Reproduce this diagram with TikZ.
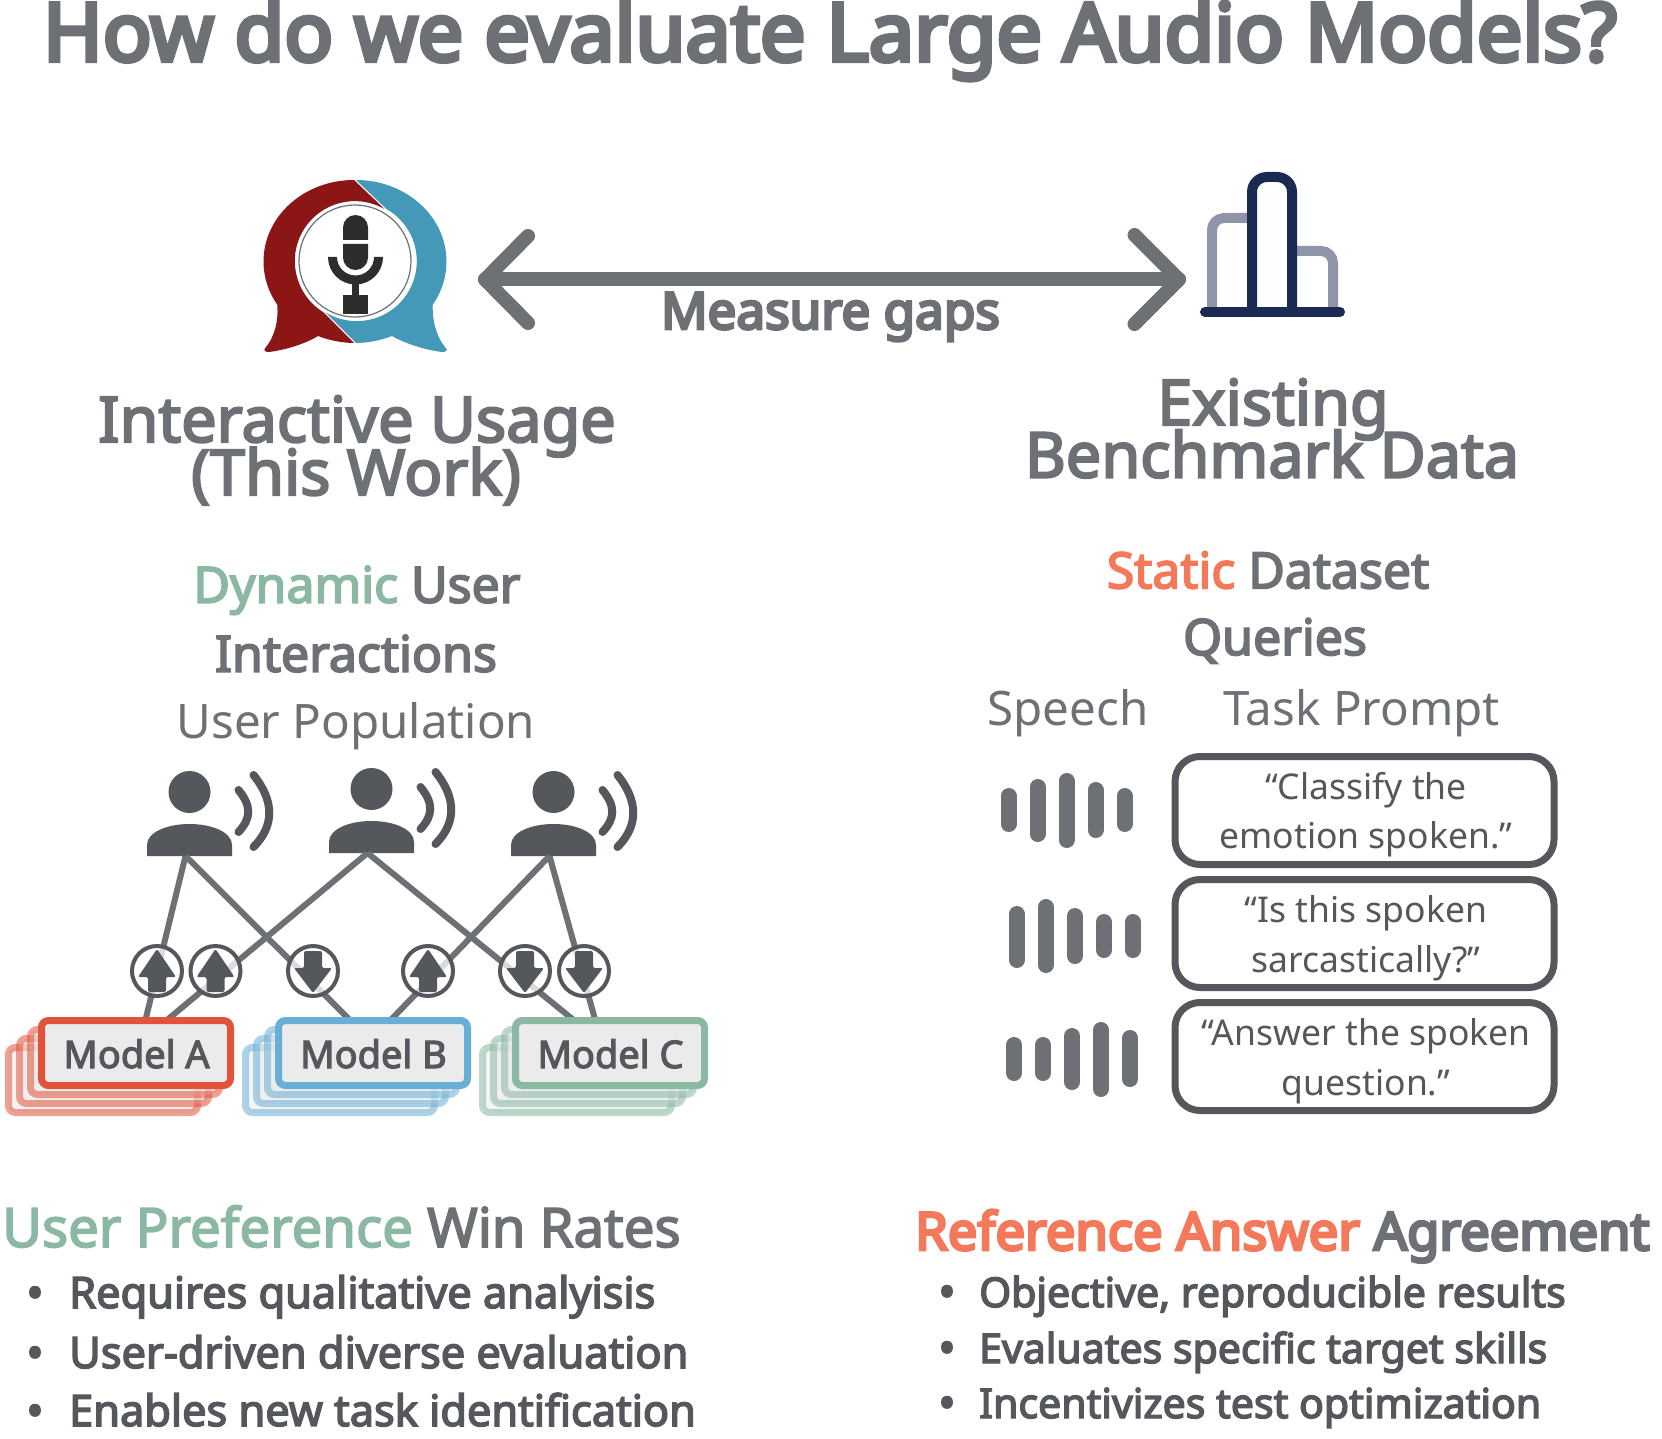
\documentclass[tikz,border=0pt]{standalone}
\usepackage{fontspec}
\setmainfont{Noto Sans}
\newfontfamily\fbheavy{Noto Sans}[FakeBold=5.5]
\newfontfamily\fbsemi{Noto Sans}[FakeBold=3.5]
\newfontfamily\fblight{Noto Sans}[FakeBold=3]
\usetikzlibrary{calc}
\definecolor{ink}{HTML}{6D7074}
\definecolor{dark}{HTML}{54575B}
\definecolor{mred}{HTML}{E2533C}
\definecolor{mblue}{HTML}{69AFD5}
\definecolor{mgreen}{HTML}{8AB8A3}
\definecolor{orng}{HTML}{F4785A}
\definecolor{lred}{HTML}{8C1515}
\definecolor{lblue}{HTML}{4498B8}
\definecolor{mic}{HTML}{2E2D2B}
\definecolor{navy}{HTML}{1B2A52}
\definecolor{slate}{HTML}{8F94A8}
\definecolor{boxgray}{HTML}{EBEBEB}
\newcommand\fsz[1]{\fontsize{#1}{#1}\selectfont}
\newcommand\modelstack[4]{% x-left(outer) name colour label
  \begin{scope}[shift={(#1,0)}]
  \foreach \k in {3,2,1}{
    \draw[line width=7pt,draw=#3,fill=boxgray,rounded corners=7pt,draw opacity=.55,fill opacity=.55]
      ($(3.5,1020.5)+(-11*\k,9*\k)$) rectangle ++(189,65);}
  \node[draw=#3,fill=boxgray,line width=7pt,rounded corners=7pt,minimum width=189pt,minimum height=65pt,inner sep=0pt,anchor=center] (#2) at (98,1053) {};
  \node[text=dark,font=\fblight\fsz{38},anchor=base,inner sep=0pt] at (98.5,1068) {#4};
  \end{scope}}
\tikzset{
 title/.style={text=ink,font=\fbheavy\fsz{80.8},inner sep=0pt,anchor=base},
 head/.style={text=ink,font=\fbsemi\fsz{63},inner sep=0pt,anchor=base},
 sub/.style={text=ink,font=\fbsemi\fsz{50},inner sep=0pt,anchor=base},
 subr/.style={text=ink,font=\fsz{47.5},inner sep=0pt,anchor=base},
 bul/.style={text=dark,font=\fbsemi\fsz{43.3},inner sep=0pt,anchor=base west},
 bulr/.style={text=dark,font=\fbsemi\fsz{41},inner sep=0pt,anchor=base west},
 dot/.style={text=dark,font=\fbheavy\fsz{43},inner sep=0pt,anchor=base},
 link/.style={draw=ink,line width=6pt},
 vote/.style={circle,draw=dark,line width=4pt,fill=white,fill opacity=.75,minimum size=50pt,inner sep=0pt},
 prompt/.style={draw=dark,line width=7pt,rounded corners=25pt,minimum width=379pt,minimum height=108pt,inner sep=0pt,fill=white},
 ptext/.style={text=dark,font=\fsz{35.5},inner sep=0pt,anchor=base},
 wavebar/.style={draw=ink,line width=16pt,line cap=round},
 sound/.style={draw=dark,line width=8pt,line cap=round},
 dbl/.style={draw=ink,line width=14pt,line cap=round,line join=round},
}
\newcommand\person[3]{% x y name
  \begin{scope}[shift={(#1,#2)}]
  \fill[dark] (0,-64) circle[radius=21];
  \fill[dark] (-42.5,0) -- (-42.5,-11) .. controls (-42.5,-24) and (-22,-32) .. (0,-32) .. controls (22,-32) and (42.5,-24) .. (42.5,-11) -- (42.5,0) -- cycle;
  \draw[sound] (49,-66) .. controls (62,-50) and (62,-38) .. (49,-24);
  \draw[sound] (64,-81) .. controls (85,-55) and (85,-30) .. (64,-9);
  \coordinate (#3) at (-4,0);
  \end{scope}}
\newcommand\voteup[1]{\fill[dark,rounded corners=2pt,shift={(#1)}] (0,-22) -- (19,6) -- (9,6) -- (9,21) -- (-9,21) -- (-9,6) -- (-19,6) -- cycle;}
\newcommand\votedown[1]{\fill[dark,rounded corners=2pt,shift={(#1)}] (0,22) -- (19,-3) -- (9,-3) -- (9,-20) -- (-9,-20) -- (-9,-3) -- (-19,-3) -- cycle;}
\begin{document}
\begin{tikzpicture}[x=1pt,y=-1pt]
\useasboundingbox (0,0) rectangle (1662,1439);
\fill[white] (0,0) rectangle (1662,1439);
% title
\node[title] (ttl) at (830,61) {How do we evaluate Large Audio Models?};
% logo
\fill[lred] (354,180) arc[start angle=270,end angle=148,x radius=90.5,y radius=81.5]
  .. controls (279,325) and (272,340) .. (266,347) .. controls (263,350) and (264,352) .. (269,352)
  .. controls (285,350) and (305,344) .. (318,336) .. controls (328,340) and (342,343) .. (354,343)
  -- (323,312) arc[start angle=122,end angle=299.6,radius=60] -- cycle;
\fill[lblue] (356,180) arc[start angle=270,end angle=392,x radius=90.5,y radius=81.5]
  .. controls (432,325) and (439,340) .. (445,347) .. controls (448,350) and (447,352) .. (442,352)
  .. controls (426,350) and (406,344) .. (392,336) .. controls (382,340) and (368,343) .. (356,343)
  -- (325,312) arc[start angle=122,end angle=-60.4,radius=60] -- cycle;
\fill[white] (355,261) circle[radius=58.5];
\draw[ink,line width=1.2pt] (355,261) circle[radius=56];
\fill[mic] (343,240) -- (343,227.5) arc[start angle=180,end angle=360,radius=12.5] -- (368,240) -- cycle;
\fill[mic] (343,244) -- (343,257.5) arc[start angle=180,end angle=0,radius=12.5] -- (368,244) -- cycle;
\fill[mic] (328,257) arc[start angle=180,end angle=0,radius=27.5] -- (374,257) arc[start angle=0,end angle=180,radius=18.5] -- cycle;
\fill[mic] (352,283) rectangle (359,296);
\fill[mic] (343,295) rectangle (368,314);
% double arrow
\coordinate (al) at (485,279.5);
\coordinate (ar) at (1179,279.5);
\draw[dbl] (528,236) -- (al) -- (528,323);
\draw[dbl] (al) -- (ar);
\draw[dbl] (1134.5,235) -- (ar) -- (1134.5,324);
\node[text=ink,font=\fbheavy\fsz{51.2},inner sep=0pt,anchor=base] (gap) at (830.5,329) {Measure gaps};
% bar chart
\draw[slate,line width=10pt,line join=round] (1212,312) -- (1212,230) arc[start angle=180,end angle=270,radius=12] -- (1252,218);
\draw[slate,line width=10pt] (1292,251) -- (1321,251) arc[start angle=270,end angle=360,radius=12] -- (1333,312);
\draw[navy,line width=10pt] (1252,312) -- (1252,192) arc[start angle=180,end angle=270,radius=15] -- (1277,177) arc[start angle=270,end angle=360,radius=15] -- (1292,312);
\draw[navy,line width=10pt,line cap=round] (1205,312) -- (1340,312);
% headings
\node[head] (h1) at (357,442) {Interactive Usage};
\node[head] (h2) at (356,495) {(This Work)};
\node[head] (h3) at (1273,425) {Existing};
\node[head] (h4) at (1272,477.5) {Benchmark Data};
\node[sub] (d1) at (357,602.7) {\textcolor{mgreen}{Dynamic} User};
\node[sub] (d2) at (356,671.7) {Interactions};
\node[subr] (d3) at (356,738) {User Population};
\node[sub] (s1) at (1268,588.3) {\textcolor{orng}{Static} Dataset};
\node[sub] (s2) at (1275,655) {Queries};
\node[subr] (s3) at (1068,725) {Speech};
\node[subr] (s4) at (1361.6,725) {Task Prompt};
% people
\person{189.5}{856}{p1}
\person{371.5}{853}{p2}
\person{553.5}{856}{p3}
% links
\coordinate (a1) at (143,1030); \coordinate (a2) at (155,1030);
\coordinate (b1) at (360,1030); \coordinate (b2) at (381,1030);
\coordinate (c1) at (586,1030); \coordinate (c2) at (598,1030);
\draw[link] (p1) -- (a1);
\draw[link] (p1) -- (b1);
\draw[link] (p2) -- (a2);
\draw[link] (p2) -- (c1);
\draw[link] (p3) -- (b2);
\draw[link] (p3) -- (c2);
% votes
\node[vote] (u1) at (157,971) {};
\node[vote] (u2) at (215.5,971) {};
\node[vote] (d4) at (313,971) {};
\node[vote] (u3) at (428,971) {};
\node[vote] (d5) at (525,971) {};
\node[vote] (d6) at (584,971) {};
\voteup{u1} \voteup{u2} \voteup{u3}
\votedown{d4} \votedown{d5} \votedown{d6}
% models
\modelstack{38}{ma}{mred}{Model A}
\modelstack{275}{mb}{mblue}{Model B}
\modelstack{512}{mc}{mgreen}{Model C}
% speech
\foreach \x/\a/\b in {1008.5/788/832,1037.5/779/842,1066.5/773/848,1095.5/782/838,1124.5/788/832,
 1016.8/906/968,1045.9/899/973,1074.9/908/964,1103.9/914/958,1132.9/914/958,
 1014/1037/1081,1043/1037/1081,1072/1028/1090,1101/1022/1097,1130/1030/1087}
  \draw[wavebar] (\x,\a+8) -- (\x,\b-8);
\node[prompt] (q1) at (1364.5,810.5) {};
\node[prompt] (q2) at (1364.5,933.5) {};
\node[prompt] (q3) at (1364.5,1056.5) {};
\node[ptext] (q1a) at (1366,799) {“Classify the};
\node[ptext] (q1b) at (1366,848.5) {emotion spoken.”};
\node[ptext] (q2a) at (1366,922) {“Is this spoken};
\node[ptext] (q2b) at (1366,972) {sarcastically?”};
\node[ptext] (q3a) at (1366,1045) {“Answer the spoken};
\node[ptext] (q3b) at (1366,1095.5) {question.”};
% bottom
\node[text=ink,font=\fblight\fsz{54.5},inner sep=0pt,anchor=base west] (l0) at (2,1247) {\textcolor{mgreen}{User Preference} Win Rates};
\node[dot] (b1a) at (35,1308) {•};
\node[dot] (b2a) at (35,1368) {•};
\node[dot] (b3a) at (35,1426) {•};
\node[bul] (t1) at (69,1308) {Requires qualitative analyisis};
\node[bul] (t2) at (69,1368) {User-driven diverse evaluation};
\node[bul] (t3) at (69,1426) {Enables new task identification};
\node[text=ink,font=\fbheavy\fsz{52.5},inner sep=0pt,anchor=base west] (r0) at (915,1250) {\textcolor{orng}{Reference Answer} Agreement};
\node[dot] (b4a) at (947,1307) {•};
\node[dot] (b5a) at (947,1363) {•};
\node[dot] (b6a) at (947,1418) {•};
\node[bulr] (t4) at (979,1307) {Objective, reproducible results};
\node[bulr] (t5) at (979,1363) {Evaluates specific target skills};
\node[bulr] (t6) at (979,1418) {Incentivizes test optimization};
\end{tikzpicture}
\end{document}
